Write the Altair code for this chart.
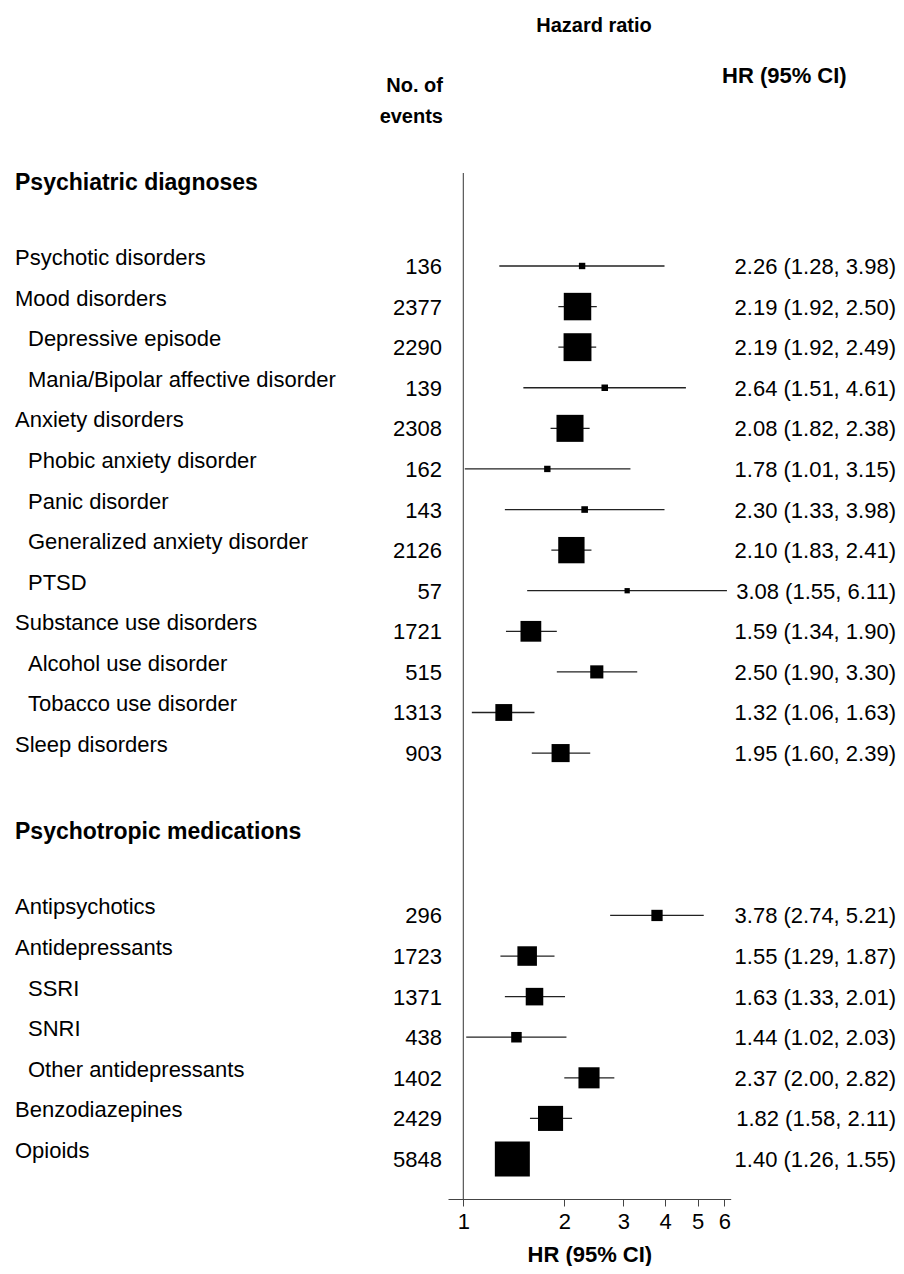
import altair as alt
import pandas as pd
import numpy as np

FONT = "Liberation Sans, Arial, Helvetica, sans-serif"

sections = ["Psychiatric diagnoses", "Psychotropic medications"]
labels = [
    "Psychotic disorders", "Mood disorders", "Depressive episode",
    "Mania/Bipolar affective disorder", "Anxiety disorders", "Phobic anxiety disorder",
    "Panic disorder", "Generalized anxiety disorder", "PTSD", "Substance use disorders",
    "Alcohol use disorder", "Tobacco use disorder", "Sleep disorders",
    "Antipsychotics", "Antidepressants", "SSRI", "SNRI", "Other antidepressants",
    "Benzodiazepines", "Opioids",
]
section_of = [0] * 13 + [1] * 7
indent = [0, 0, 1, 1, 0, 1, 1, 1, 1, 0, 1, 1, 0, 0, 0, 1, 1, 1, 0, 0]
events = [136, 2377, 2290, 139, 2308, 162, 143, 2126, 57, 1721, 515, 1313, 903,
          296, 1723, 1371, 438, 1402, 2429, 5848]
hr = [2.26, 2.19, 2.19, 2.64, 2.08, 1.78, 2.30, 2.10, 3.08, 1.59, 2.50, 1.32, 1.95,
      3.78, 1.55, 1.63, 1.44, 2.37, 1.82, 1.40]
lo = [1.28, 1.92, 1.92, 1.51, 1.82, 1.01, 1.33, 1.83, 1.55, 1.34, 1.90, 1.06, 1.60,
      2.74, 1.29, 1.33, 1.02, 2.00, 1.58, 1.26]
hi = [3.98, 2.50, 2.49, 4.61, 2.38, 3.15, 3.98, 2.41, 6.11, 1.90, 3.30, 1.63, 2.39,
      5.21, 1.87, 2.01, 2.03, 2.82, 2.11, 1.55]
axis_ticks = [1, 2, 3, 4, 5, 6]
header_lines = ["Hazard ratio", "No. of", "events", "HR (95% CI)"]

# row order (heading, blank, items, blank) per section
rows, heading_rows = [], []
r = 0
for s in range(len(sections)):
    heading_rows.append(r)
    r += 2
    for sec in section_of:
        if sec == s:
            rows.append(r)
            r += 1
    r += 1

# inverse-variance weights from the CIs (box area)
weights = [1.0 / ((np.log(h) - np.log(l)) / (2 * 1.96)) ** 2 for l, h in zip(lo, hi)]

df = pd.DataFrame({
    "label": labels, "indent": indent, "events": [str(e) for e in events],
    "hr": hr, "lo": lo, "hi": hi, "row": rows, "w": weights,
    "hrtext": [f"{a:.2f} ({b:.2f}, {c:.2f})" for a, b, c in zip(hr, lo, hi)],
})
heads = pd.DataFrame({"label": sections, "row": heading_rows})

xscale = alt.Scale(type="log", domain=[0.9, 6.27], range=[440, 722.7], nice=False)
yscale = alt.Scale(domain=[0, 24], range=[176.8, 1151], nice=False, zero=False)
Y = alt.Y("row:Q", scale=yscale, axis=None)

base = alt.Chart(df)

ref = alt.Chart(pd.DataFrame({"v": [1]})).mark_rule(color="#555", strokeWidth=1.2).encode(
    x=alt.X("v:Q", scale=xscale,
            axis=alt.Axis(values=axis_ticks, title="HR (95% CI)", grid=False,
                          labelExpr="datum.value", tickSize=7, tickColor="#444",
                          domainColor="#444", labelFontSize=22, labelFont=FONT,
                          labelColor="black", labelPadding=5,
                          titleFont=FONT, titleFontSize=22, titleFontWeight="bold",
                          titleColor="black", titlePadding=12, labelFlush=False)),
    y=alt.value(165), y2=alt.value(1191),
)

ci = base.mark_rule(color="#222", strokeWidth=1.3).encode(
    x=alt.X("lo:Q", scale=xscale), x2="hi:Q", y=Y)

boxes = base.mark_point(shape="square", filled=True, opacity=1, color="black",
                        strokeWidth=0).encode(
    x=alt.X("hr:Q", scale=xscale), y=Y,
    size=alt.Size("w:Q", scale=alt.Scale(domain=[0, max(weights)], range=[0, 1225]),
                  legend=None))

lab_main = base.transform_filter("datum.indent == 0").mark_text(
    align="left", baseline="alphabetic", dy=-1, font=FONT, fontSize=22, color="black"
).encode(x=alt.value(7), y=Y, text="label:N")
lab_sub = base.transform_filter("datum.indent == 1").mark_text(
    align="left", baseline="alphabetic", dy=-1, font=FONT, fontSize=22, color="black"
).encode(x=alt.value(20), y=Y, text="label:N")
ev = base.mark_text(align="right", baseline="alphabetic", dy=8, font=FONT,
                    fontSize=22, color="black").encode(x=alt.value(434), y=Y, text="events:N")
hrt = base.mark_text(align="right", baseline="alphabetic", dy=8, font=FONT,
                     fontSize=22, color="black").encode(x=alt.value(888), y=Y, text="hrtext:N")
hd = alt.Chart(heads).mark_text(align="left", baseline="alphabetic", dy=5, font=FONT,
                                fontSize=23, fontWeight="bold", color="black").encode(
    x=alt.value(7), y=Y, text="label:N")

hdr_style = dict(baseline="middle", font=FONT, fontWeight="bold", color="black")
hdr1 = alt.Chart(pd.DataFrame({"t": [header_lines[0]]})).mark_text(
    align="center", fontSize=20, **hdr_style).encode(x=alt.value(586), y=alt.value(18), text="t:N")
hdr2 = alt.Chart(pd.DataFrame({"t": [header_lines[1]]})).mark_text(
    align="right", fontSize=20, **hdr_style).encode(x=alt.value(435), y=alt.value(78), text="t:N")
hdr3 = alt.Chart(pd.DataFrame({"t": [header_lines[2]]})).mark_text(
    align="right", fontSize=20, **hdr_style).encode(x=alt.value(435), y=alt.value(109), text="t:N")
hdr4 = alt.Chart(pd.DataFrame({"t": [header_lines[3]]})).mark_text(
    align="left", fontSize=22, **hdr_style).encode(x=alt.value(714), y=alt.value(68), text="t:N")

chart = alt.layer(ref, ci, boxes, lab_main, lab_sub, ev, hrt, hd, hdr1, hdr2, hdr3, hdr4).properties(
    width=888, height=1191,
    autosize=alt.AutoSizeParams(type="none"),
    padding={"left": 0, "top": 0, "right": 0, "bottom": 67},
).configure_view(stroke=None)

chart.save("out.html", embed_options={"renderer": "svg", "actions": False})
